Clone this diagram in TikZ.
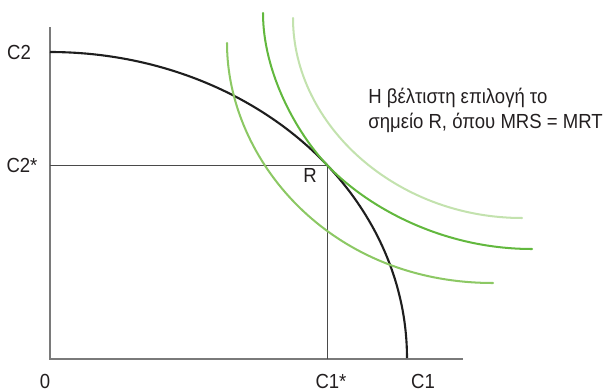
\documentclass[tikz,border=0pt]{standalone}
\usepackage{fontspec}
\setmainfont{Liberation Sans}
\definecolor{axisgray}{HTML}{7A7A7A}
\definecolor{guidegray}{HTML}{4A4A4A}
\definecolor{ppfblack}{HTML}{1E1E1E}
\definecolor{icA}{HTML}{8CC864}
\definecolor{icB}{HTML}{62B83E}
\definecolor{icC}{HTML}{C3E2AE}
\definecolor{txt}{HTML}{231F20}
\tikzset{
  lbl/.style={font=\fontsize{11.6}{14}\selectfont, text=txt, inner sep=0pt, xscale=0.91, transform shape},
  axisline/.style={draw=axisgray, line width=0.75pt},
  guideline/.style={draw=guidegray, line width=0.5pt},
  ppf/.style={draw=ppfblack, line width=1.2pt},
  icurve/.style={line width=1.15pt, line cap=round}
}
\begin{document}
\begin{tikzpicture}[x=0.02cm, y=-0.02cm]
\useasboundingbox (0,0) rectangle (605,392);
% axes
\coordinate (ytop) at (50,27);
\coordinate (O) at (50,359);
\coordinate (xend) at (463,359);
\draw[axisline] (ytop) -- (O) -- (xend);
% guide lines to R
\coordinate (Rpt) at (327,165);
\coordinate (c2s) at (50,165);
\coordinate (c1s) at (327,359);
\draw[guideline] (c2s) -- (Rpt) -- (c1s);
% production possibility frontier (quarter ellipse)
\draw[ppf] plot[domain=90:0, samples=80, smooth] ({50+357*cos(\x)}, {358-306*sin(\x)});
% indifference curves
\draw[icurve, draw=icA] (227,43) .. controls (227,160) and (330,283) .. (493,283);
\draw[icurve, draw=icB] (263,13) .. controls (263,73) and (297,133.4) .. (Rpt)
  .. controls (367,207) and (442,249) .. (532,249);
\draw[icurve, draw=icC] (293,18) .. controls (293,125) and (396,218) .. (522,218);
% labels
\node[lbl] (lC2) at (19,52) {C2};
\node[lbl] (lC2s) at (22,165) {C2*};
\node[lbl] (l0) at (45,381) {0};
\node[lbl] (lC1s) at (331,381) {C1*};
\node[lbl] (lC1) at (423,381) {C1};
\node[lbl] (lR) at (310,175) {R};
\node[lbl, anchor=base west] (t1) at (368,103) {Η βέλτιστη επιλογή το};
\node[lbl, anchor=base west] (t2) at (368,128) {σημείο R, όπου MRS = MRT};
\end{tikzpicture}
\end{document}
